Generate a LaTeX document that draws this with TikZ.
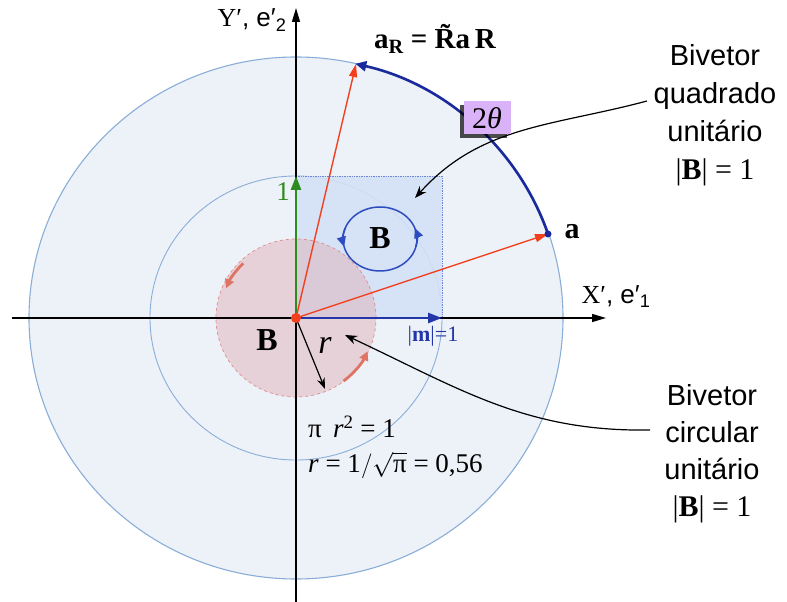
\documentclass[tikz,border=0pt]{standalone}
\usepackage{fontspec}
\setmainfont{Liberation Serif}
\newfontfamily\arial{Liberation Sans}
\usetikzlibrary{arrows.meta,shadows}
\definecolor{diskfill}{HTML}{EDF1F8}
\definecolor{diskline}{HTML}{8AAED8}
\definecolor{sqfill}{HTML}{D4E1F6}
\definecolor{sqline}{HTML}{6F86D8}
\definecolor{pinkfill}{HTML}{DEB2B8}
\definecolor{pinkline}{HTML}{E08C8C}
\definecolor{salmon}{HTML}{E07464}
\definecolor{vecred}{HTML}{F2401E}
\definecolor{arcblue}{HTML}{1A2A9C}
\definecolor{mblue}{HTML}{2236A8}
\definecolor{bblue}{HTML}{2C4CC0}
\definecolor{ggreen}{HTML}{2E8C1E}
\definecolor{lav}{HTML}{D9B2F7}
\tikzset{
  axisline/.style={line width=1.3pt,-{Triangle[length=14pt,width=8pt]}},
  thickvec/.style={line width=2.6pt,-{Triangle[length=14pt,width=10pt]}},
  redvec/.style={vecred,line width=1.4pt,-{Triangle[length=13pt,width=8pt]}},
  callout/.style={line width=1.2pt,-{Stealth[length=12pt,width=9pt]}},
  rotarrow/.style={salmon,line width=2.8pt,-{Triangle[length=9pt,width=9pt]}},
  circarrow/.style={bblue,line width=1.6pt,-{Triangle[length=10pt,width=9pt]}},
  sidetext/.style={font=\arial\fontsize{29}{38}\selectfont,align=center},
}
\begin{document}
\begin{tikzpicture}[x=1pt,y=1pt]
\useasboundingbox (0,0) rectangle (787,602);
\coordinate (O) at (296,284);
\coordinate (a) at (548,368);
\coordinate (aR) at (356,538);
\coordinate (sqTR) at (442,426);
\coordinate (xl) at (12,284);
\coordinate (xr) at (606,284);
\coordinate (yb) at (296,0);
\coordinate (yt) at (296,594);
\coordinate (mtip) at (442,284);
\coordinate (onetip) at (296,426);
\coordinate (rtip) at (325,213);
\coordinate (c1s) at (647,501);
\coordinate (c1e) at (415,404);
\coordinate (c2s) at (650,172);
\coordinate (c2e) at (345,267);
\coordinate (bc) at (380,363);

% disks
\filldraw[fill=diskfill,draw=diskline,line width=1.1pt] (O) ellipse [x radius=267,y radius=261];
\draw[diskline,line width=0.9pt] (O) ellipse [x radius=146,y radius=142];
% square bivector
\fill[sqfill,fill opacity=0.9] (O) rectangle (sqTR);
\draw[sqline,densely dotted,line width=0.7pt] (O |- sqTR) -- (sqTR) -- (sqTR |- O);
% circular bivector
\filldraw[fill=pinkfill,fill opacity=0.5,draw=pinkline,dashed,line width=0.7pt] (O) ellipse [x radius=80,y radius=79];
\draw[rotarrow] ([shift={(134:76)}]O) arc[start angle=134,end angle=157,radius=76];
\draw[rotarrow] ([shift={(307:79)}]O) arc[start angle=307,end angle=335,radius=79];

% axes
\draw[axisline] (xl) -- (xr);
\draw[axisline] (yb) -- (yt);

% vectors
\draw[thickvec,ggreen] (O) -- (onetip);
\draw[thickvec,mblue] (O) -- (mtip);
\draw[redvec] (O) -- (a);
\draw[redvec] (O) -- (aR);
\draw[line width=1.2pt,-{Stealth[length=11pt,width=8pt]}] (O) -- (rtip);
\fill[vecred] (O) circle (5);

% rotation arc
\draw[arcblue,line width=2.6pt,-{Triangle[length=11pt,width=10pt]}] (a) arc[start angle=18.8,end angle=77,x radius=267,y radius=261];
\fill[arcblue] (a) circle (3.5);

% small oriented circle
\draw[bblue,line width=1.5pt] (bc) ellipse [x radius=37,y radius=32];
\draw[circarrow] ([shift={(160:37 and 32)}]bc) arc[start angle=160,end angle=194,x radius=37,y radius=32];
\draw[circarrow] ([shift={(-14:37 and 32)}]bc) arc[start angle=-14,end angle=20,x radius=37,y radius=32];

% callouts
\draw[callout] (c1s) to[out=195,in=48] (c1e);
\draw[callout] (c2s) to[out=181,in=-25] (c2e);

% labels
\node[fill=lav,inner sep=1pt,minimum width=47pt,minimum height=33pt,
      drop shadow={shadow xshift=-4pt,shadow yshift=-4pt,opacity=0.7,fill=black}] (th) at (487,484)
      {\fontsize{30}{30}\selectfont 2\textit{θ}};
\node (lY) at (252,582) {\fontsize{26}{26}\selectfont Y′{\arial, e′\textsubscript{2}}};
\node (lX) at (616,305) {\fontsize{26}{26}\selectfont X′{\arial, e′\textsubscript{1}}};
\node (laR) at (435,563) {\fontsize{29}{29}\selectfont\bfseries a\textsubscript{R} = \~{R}a\,R};
\node (la) at (572,370) {\fontsize{30}{30}\selectfont\bfseries a};
\node[text=ggreen] (l1) at (283,410) {\fontsize{27}{27}\selectfont 1};
\node[text=mblue] (lm) at (433,266) {\fontsize{22}{22}\selectfont\textbar\textbf{m}\textbar=1};
\node (lBp) at (267,262) {\fontsize{32}{32}\selectfont\bfseries B};
\node (lBb) at (380,364) {\fontsize{32}{32}\selectfont\bfseries B};
\node (lr) at (325,257) {\fontsize{34}{34}\selectfont\itshape r};
\node[anchor=west,inner sep=0pt] (f1) at (308,175) {\fontsize{27}{27}\selectfont π\, \textit{r}\textsuperscript{2} = 1};
\node[anchor=west,inner sep=0pt] (f2) at (308,137) {\fontsize{27}{27}\selectfont \textit{r} = 1$\big/\sqrt{\hbox{π}}$ = 0,56};
\node[sidetext] (q1) at (715,487) {Bivetor\\quadrado\\unitário\\{\rmfamily\fontsize{30}{38}\selectfont\textbar\textbf{B}\textbar\ = 1}};
\node[sidetext,font=\arial\fontsize{29}{37}\selectfont] (q2) at (712,148) {Bivetor\\circular\\unitário\\{\rmfamily\fontsize{30}{37}\selectfont\textbar\textbf{B}\textbar\ = 1}};
\end{tikzpicture}
\end{document}
